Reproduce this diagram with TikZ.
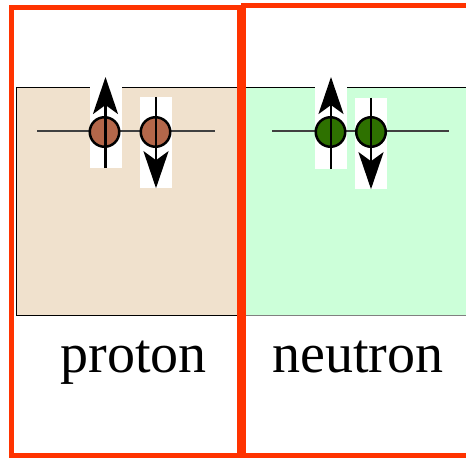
\documentclass[tikz,border=0pt]{standalone}
\usepackage{fontspec}
\setmainfont{Liberation Serif}
\usetikzlibrary{arrows.meta}
\definecolor{framered}{HTML}{FF3300}
\definecolor{protonbg}{HTML}{F0E1CD}
\definecolor{neutronbg}{HTML}{CCFFD9}
\definecolor{protonball}{HTML}{B4674A}
\definecolor{neutronball}{HTML}{2E7100}
\begin{document}
\begin{tikzpicture}[x=1pt,y=-1pt,
  frame/.style={draw=framered,line width=5pt},
  well/.style={draw=black,line width=1pt},
  level/.style={draw=black!75,line width=1.5pt},
  gap/.style={fill=white,minimum width=32pt,inner sep=0pt},
  ball/.style={circle,draw=black,line width=2.5pt,minimum size=29.5pt,inner sep=0pt},
  spin/.style={line width=2.8pt,-{Stealth[length=37pt,width=25pt,inset=9pt]}},
  label/.style={font=\fontsize{56}{60}\selectfont,anchor=base}]
  \clip (0,0) rectangle (466,460);
  % wells
  \fill[protonbg] (16,88) rectangle (240,315);
  \fill[neutronbg] (240,88) rectangle (470,315);
  \draw[well] (240,88) -- (16,88) -- (16,315) -- (240,315);
  \draw[well] (240,88) -- (470,88);
  \draw[well,draw=black!50] (240,315) -- (470,315);
  % proton level
  \begin{scope}
    \coordinate (p-left) at (37,131);
    \coordinate (p-right) at (215,131);
    \draw[level] (p-left) -- (p-right);
    \node[gap,minimum height=82pt] (pu-gap) at (105.5,127) {};
    \node[gap,minimum height=91pt] (pd-gap) at (156,142.5) {};
    \draw[level] (pu-gap.west |- p-left) -- (pu-gap.east |- p-left);
    \draw[level] (pd-gap.west |- p-left) -- (pd-gap.east |- p-left);
    \node[ball,fill=protonball] (pu) at (104.5,132) {};
    \node[ball,fill=protonball] (pd) at (155.5,132) {};
    \coordinate (pu-tip) at (105.5,77);
    \draw[spin] (pu-gap.south) -- (pu-tip);
    \draw[spin] (pd-gap.north) -- (pd-gap.south);
  \end{scope}
  % neutron level
  \begin{scope}
    \coordinate (n-left) at (272,131);
    \coordinate (n-right) at (449,131);
    \draw[level] (n-left) -- (n-right);
    \node[gap,minimum height=82pt] (nu-gap) at (331,128) {};
    \node[gap,minimum height=91pt] (nd-gap) at (371,143.5) {};
    \draw[level] (nu-gap.west |- n-left) -- (nu-gap.east |- n-left);
    \draw[level] (nd-gap.west |- n-left) -- (nd-gap.east |- n-left);
    \node[ball,fill=neutronball] (nu) at (330.5,132) {};
    \node[ball,fill=neutronball] (nd) at (371,132) {};
    \coordinate (nu-tip) at (331,77);
    \draw[spin] (nu-gap.south) -- (nu-tip);
    \draw[spin] (nd-gap.north) -- (nd-gap.south);
  \end{scope}
  % frames
  \draw[frame] (11.5,7.5) rectangle (239.5,455.5);
  \draw[frame] (243,6) rectangle (480,455);
  \node[label] (proton) at (133.5,372) {proton};
  \node[label] (neutron) at (358,372) {neutron};
\end{tikzpicture}
\end{document}
